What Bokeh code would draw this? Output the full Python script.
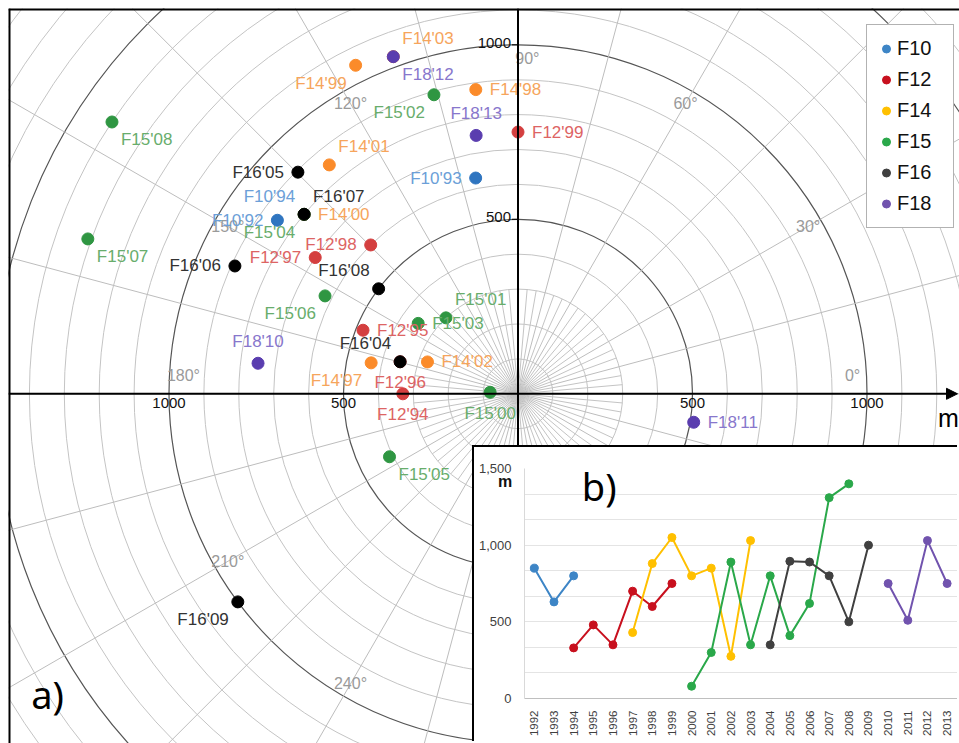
import numpy as np
from bokeh.plotting import figure
from bokeh.models import (ColumnDataSource, Span, Arrow, NormalHead, Legend, LegendItem,
                          FixedTicker, NumeralTickFormatter, Div, BoxAnnotation)
from bokeh.embed import file_html
from bokeh.resources import INLINE
from bokeh.core.properties import value

# ---------------- data ----------------
series = ["F10", "F12", "F14", "F15", "F16", "F18"]

years_F10 = [1992, 1993, 1994]
dist_F10 = [850, 630, 800]
azim_F10 = [144.2, 101.1, 140.0]

years_F12 = [1994, 1995, 1996, 1997, 1998, 1999]
dist_F12 = [330, 480, 350, 700, 600, 750]
azim_F12 = [180.0, 157.7, 164.8, 146.1, 134.7, 90.0]

years_F14 = [1997, 1998, 1999, 2000, 2001, 2002, 2003]
dist_F14 = [430, 880, 1050, 800, 850, 275, 1030]
azim_F14 = [168.1, 97.9, 116.3, 140.0, 129.5, 160.6, 110.3]

years_F15 = [2000, 2001, 2002, 2003, 2004, 2005, 2006, 2007, 2008]
dist_F15 = [80, 300, 890, 350, 800, 410, 620, 1310, 1400]
azim_F15 = [176.9, 133.5, 105.7, 144.8, 140.0, 206.1, 153.1, 160.2, 146.2]

years_F16 = [2004, 2005, 2006, 2007, 2008, 2009]
dist_F16 = [350, 895, 890, 800, 500, 1000]
azim_F16 = [164.8, 134.8, 155.7, 140.0, 143.0, 216.6]

years_F18 = [2010, 2011, 2012, 2013]
dist_F18 = [750, 510, 1030, 750]
azim_F18 = [173.3, 350.8, 110.3, 99.2]

all_years = list(range(1992, 2014))
ring_radii = list(range(100, 2001, 100))
major_rings = [500, 1000, 1500]
angle_ticks = list(range(0, 360, 30))
axis_ticks = [-1000, -500, 500, 1000]
inset_ticks = [0, 500, 1000, 1500]

# label placement (layout only)
label_dir = {
    "F10": ["W", "W", "NW"],
    "F12": ["S", "E", "S", "W", "W", "E"],
    "F14": ["SW", "E", "SW", "E", "NE", "E", "NE"],
    "F15": ["S", "NE", "SW", "E", "SW", "SE", "SW", "SE", "SE"],
    "F16": ["NW", "W", "W", "NE", "NW", "SW"],
    "F18": ["N", "E", "SE", "N"],
}

data = {
    "F10": (years_F10, dist_F10, azim_F10),
    "F12": (years_F12, dist_F12, azim_F12),
    "F14": (years_F14, dist_F14, azim_F14),
    "F15": (years_F15, dist_F15, azim_F15),
    "F16": (years_F16, dist_F16, azim_F16),
    "F18": (years_F18, dist_F18, azim_F18),
}

dot_color = {"F10": "#2F75C0", "F12": "#D43F3F", "F14": "#FB8B2A",
             "F15": "#2F9642", "F16": "#000000", "F18": "#5A3DAF"}
lab_color = {"F10": "#6C9FD8", "F12": "#DD6464", "F14": "#F6A55C",
             "F15": "#68AD6C", "F16": "#333333", "F18": "#8877CC"}
line_color = {"F10": "#3D85C6", "F12": "#C8101E", "F14": "#FFC000",
              "F15": "#2AA84A", "F16": "#404040", "F18": "#7153AE"}

FONT = "Liberation Sans"

# ---------------- geometry of main plot ----------------
W, H = 951, 735
s = 0.349                      # px per metre
x_start = (8 - 517.5) / s
x_end = x_start + W / s
y_end = (393.3 - 8) / s
y_start = y_end - H / s

p = figure(width=W, height=H, x_range=(x_start, x_end), y_range=(y_start, y_end),
           output_backend="svg", toolbar_location=None, min_border=0,
           x_axis_location=None, y_axis_location=None,
           styles={"position": "absolute", "left": "8px", "top": "8px"})
p.grid.visible = False
p.outline_line_color = None
p.background_fill_color = "white"
p.border_fill_color = "white"

# rings
minor_r = [r for r in ring_radii if r not in major_rings]
p.circle(x=[0] * len(minor_r), y=[0] * len(minor_r), radius=minor_r,
         fill_color=None, line_color="#c4c4c4", line_width=1)
p.circle(x=[0] * len(major_rings), y=[0] * len(major_rings), radius=major_rings,
         fill_color=None, line_color="#555555", line_width=1.2)

# radial lines
R = 2300
ang15 = np.deg2rad(np.arange(0, 360, 15))
p.segment(x0=0, y0=0, x1=R * np.cos(ang15), y1=R * np.sin(ang15),
          line_color="#bdbdbd", line_width=1)
ang5 = np.deg2rad([a for a in range(0, 360, 5) if a % 15 != 0])
p.segment(x0=0, y0=0, x1=300 * np.cos(ang5), y1=300 * np.sin(ang5),
          line_color="#c4c4c4", line_width=1)

# axes
p.add_layout(Span(location=0, dimension="height", line_color="black", line_width=2))
tip = (957 - 517.5) / s
p.add_layout(Arrow(x_start=x_start, y_start=0, x_end=tip, y_end=0, line_color="black",
                   line_width=2, end=NormalHead(size=11, fill_color="black", line_color="black")))
# frame edges (top/left)
p.add_layout(Span(location=x_start, dimension="height", line_color="black", line_width=4))
p.add_layout(Span(location=y_end, dimension="width", line_color="black", line_width=4))

# axis tick labels
p.text(x=axis_ticks, y=[0] * 4, text=[str(abs(t)) for t in axis_ticks],
       text_font=value(FONT), text_font_size="15px", text_color="#111111",
       text_align="center", text_baseline="middle", y_offset=9)
yt = [500, 1000]
p.text(x=[0, 0], y=yt, text=[str(t) for t in yt], text_font=value(FONT),
       text_font_size="15px", text_color="#111111", text_align="right",
       text_baseline="middle", x_offset=-7, y_offset=-2)
p.segment(x0=[-6 / s] * 2, y0=yt, x1=[0, 0], y1=yt, line_color="black", line_width=1)

# angle labels
a_pos = []
for a in angle_ticks:
    d = {0: 3.1, 90: -1.6, 180: -3.1, 270: 1.6}.get(a, 0.0)
    a_pos.append(np.deg2rad(a + d))
a_pos = np.array(a_pos)
p.text(x=960 * np.cos(a_pos), y=960 * np.sin(a_pos), text=[f"{a}°" for a in angle_ticks],
       text_font=value(FONT), text_font_size="16px", text_color="#9a9a9a",
       text_align="center", text_baseline="middle")

# legend renderers (hidden beneath the first dot of each series)
items = []
for sname in series:
    yrs, dist, az = data[sname]
    th = np.deg2rad(az[:1])
    r = p.scatter(x=dist[0] * np.cos(th), y=dist[0] * np.sin(th), size=8, marker="circle",
                  fill_color=line_color[sname], line_color=line_color[sname])
    items.append(LegendItem(label=sname, renderers=[r]))

# points
offs = {"E": ("left", 14, 0), "W": ("right", -14, 0), "N": ("center", 0, -22),
        "S": ("center", 0, 21), "NE": ("left", 9, -18), "NW": ("right", -9, -18),
        "SE": ("left", 9, 18), "SW": ("right", -9, 18)}
labels = {d: {"x": [], "y": [], "t": [], "c": []} for d in offs}
for sname in series:
    yrs, dist, az = data[sname]
    th = np.deg2rad(az)
    xs = np.array(dist) * np.cos(th)
    ys = np.array(dist) * np.sin(th)
    p.scatter(x=xs, y=ys, size=12, fill_color=dot_color[sname], line_color=dot_color[sname])
    for xx, yy, yr, d in zip(xs, ys, yrs, label_dir[sname]):
        L = labels[d]
        L["x"].append(xx); L["y"].append(yy)
        L["t"].append(f"{sname}'{str(yr)[2:]}")
        L["c"].append(lab_color[sname])
for d, (al, xo, yo) in offs.items():
    L = labels[d]
    if not L["x"]:
        continue
    src = ColumnDataSource(dict(x=L["x"], y=L["y"], t=L["t"], c=L["c"]))
    p.text(x="x", y="y", text="t", source=src, text_color="c", text_font=value(FONT),
           text_font_size="17px", text_align=al, text_baseline="middle",
           x_offset=xo, y_offset=yo)

# "m" and "a)"
p.text(x=[(948 - 517.5) / s], y=[(393.3 - 417) / s], text=["m"],
       text_font=value(FONT), text_font_size="25px", text_color="black",
       text_align="center", text_baseline="middle")
p.text(x=[(47 - 517.5) / s], y=[(393.3 - 693) / s], text=["a)"],
       text_font=value("Noto Sans"), text_font_size="38px", text_color="black",
       text_align="center", text_baseline="middle")

leg = Legend(items=items, location=(858, 515), glyph_width=20, glyph_height=29,
             label_height=29, spacing=2, padding=9, label_standoff=1, label_width=47,
             label_text_font=FONT, label_text_font_size="20px", label_text_color="#111111",
             border_line_color="#666666", border_line_width=1, background_fill_alpha=1,
             margin=0)
p.add_layout(leg)

# white backing for the inset area (the inset sits on top of it)
p.add_layout(BoxAnnotation(left=(472 - 517.5) / s, right=x_end + 100,
                           bottom=y_start - 100, top=(393.3 - 445) / s,
                           fill_color="white", fill_alpha=1, line_color=None))

# ---------------- inset b) ----------------
p2 = figure(width=485, height=296, x_range=(1991.5, 2013.63), y_range=(0, 1500),
            output_backend="svg", toolbar_location=None,
            min_border_left=50, min_border_right=0, min_border_top=21, min_border_bottom=45,
            styles={"position": "absolute", "left": "472px", "top": "445px",
                    "border-left": "2px solid black", "border-top": "2px solid black",
                    "background": "white"})
p2.outline_line_color = None
p2.background_fill_color = "white"
p2.border_fill_color = "white"
p2.xgrid.visible = False
p2.xgrid.grid_line_color = None
p2.ygrid.ticker = FixedTicker(ticks=[i * 500 / 3 for i in range(10)])
p2.ygrid.grid_line_color = "#e4e4e4"
p2.yaxis.ticker = FixedTicker(ticks=inset_ticks)
p2.yaxis.formatter = NumeralTickFormatter(format="0,0")
p2.yaxis.axis_line_color = "#d9d9d9"
p2.yaxis.major_tick_line_color = None
p2.yaxis.minor_tick_line_color = None
p2.yaxis.major_label_text_font = FONT
p2.yaxis.major_label_text_font_size = "13px"
p2.yaxis.major_label_text_color = "#404040"
p2.yaxis.major_label_standoff = 7
p2.xaxis.ticker = FixedTicker(ticks=all_years)
p2.xaxis.major_label_orientation = np.pi / 2
p2.xaxis.axis_line_color = "#bfbfbf"
p2.xaxis.major_tick_line_color = None
p2.xaxis.minor_tick_line_color = None
p2.xaxis.major_label_text_font = FONT
p2.xaxis.major_label_text_font_size = "11.5px"
p2.xaxis.major_label_text_color = "#404040"
p2.xaxis.major_label_standoff = 6

for sname in series:
    yrs, dist, _ = data[sname]
    p2.line(x=yrs, y=dist, line_color=line_color[sname], line_width=2)
    p2.scatter(x=yrs, y=dist, size=8, fill_color=line_color[sname], line_color=line_color[sname])

p2.text(x=[1995.3], y=[1386], text=["b)"], text_font=value("Noto Sans"),
        text_font_size="38px", text_color="black", text_align="center",
        text_baseline="middle")

unit_div = Div(text="m", width=20, height=20,
               styles={"position": "absolute", "left": "498px", "top": "473px",
                       "font-family": FONT, "font-weight": "bold", "font-size": "16px",
                       "line-height": "18px", "color": "#111111", "margin": "0",
                       "padding": "0"})

open("out.html", "w").write(file_html([p, p2, unit_div], INLINE))
